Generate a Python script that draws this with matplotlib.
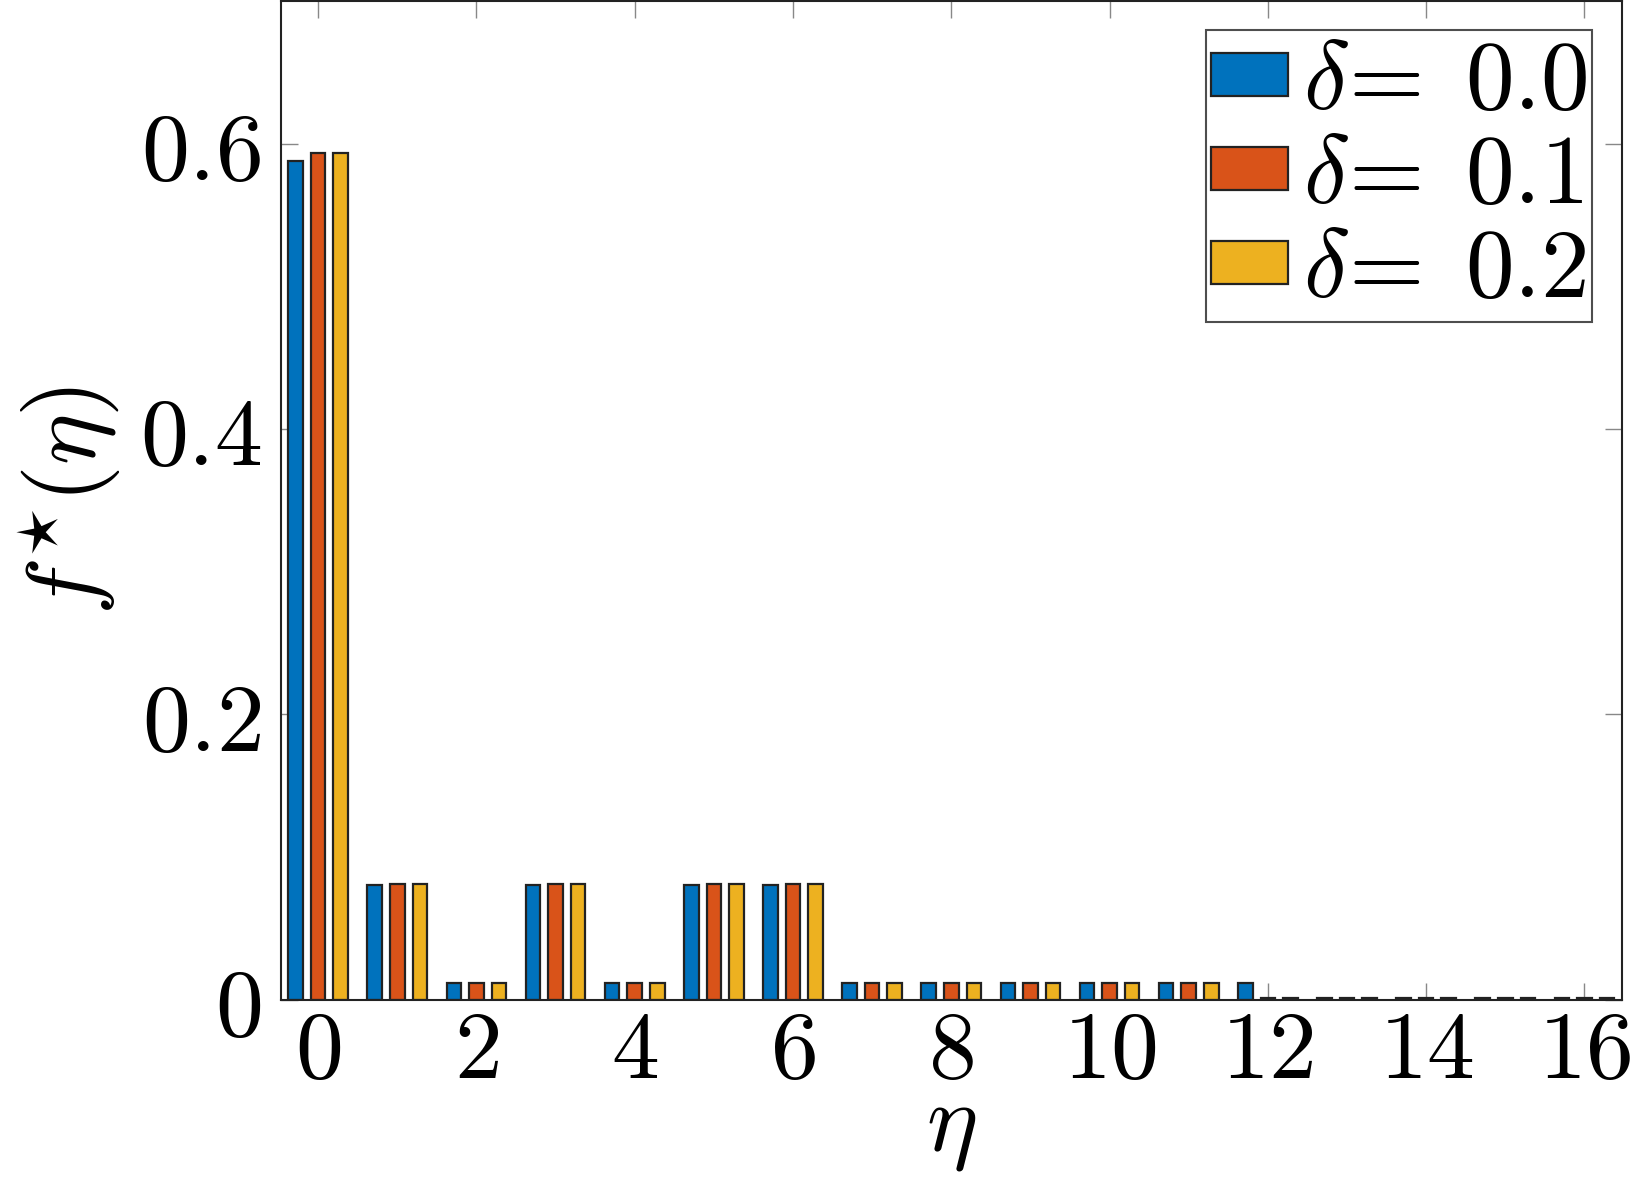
import numpy as np
import matplotlib
matplotlib.use("Agg")
import matplotlib.pyplot as plt

plt.rcParams['mathtext.fontset'] = 'cm'
plt.rcParams['font.family'] = ['DejaVu Serif']

# data
eta = np.arange(17)
f_d00 = [0.588, 0.0805, 0.0117, 0.0805, 0.0117, 0.0805, 0.0805, 0.0117, 0.0117,
         0.0117, 0.0117, 0.0117, 0.0117, 0.0015, 0.0015, 0.0015, 0.0015]
f_d01 = [0.5935, 0.0812, 0.0117, 0.0812, 0.0117, 0.0812, 0.0812, 0.0117, 0.0117,
         0.0117, 0.0117, 0.0117, 0.0015, 0.0015, 0.0015, 0.0015, 0.0015]
f_d02 = [0.5935, 0.0812, 0.0117, 0.0812, 0.0117, 0.0812, 0.0812, 0.0117, 0.0117,
         0.0117, 0.0117, 0.0117, 0.0015, 0.0015, 0.0015, 0.0015, 0.0015]
labels = [r'$\delta\!{=}\;0.0$', r'$\delta\!{=}\;0.1$', r'$\delta\!{=}\;0.2$']
colors = ['#0072BD', '#D95319', '#EDB120']

xticks = [0, 2, 4, 6, 8, 10, 12, 14, 16]
yticks = [0, 0.2, 0.4, 0.6]
ytick_labels = [r'$0$', r'$0.2$', r'$0.4$', r'$0.6$']

fig = plt.figure(figsize=(16.43, 11.86), dpi=100)
ax = fig.add_axes([0.171, 0.157, 0.816, 0.842])

w = 0.185
off = 0.285
for i, (vals, lab, c) in enumerate(zip([f_d00, f_d01, f_d02], labels, colors)):
    ax.bar(eta + (i - 1) * off, vals, width=w, color=c, edgecolor='#222222',
           linewidth=1.6, label=lab, zorder=2)

ax.set_xlim(-0.47, 16.47)
ax.set_ylim(0, 0.7)
ax.set_xticks(xticks)
ax.set_xticklabels([r'$%d$' % t for t in xticks])
ax.set_yticks(yticks)
ax.set_yticklabels(ytick_labels)
ax.tick_params(axis='both', direction='in', top=True, right=True, length=12,
               width=1, color='#888888', labelsize=69)
ax.tick_params(axis='x', pad=4)
ax.tick_params(axis='y', pad=14)
for s in ax.spines.values():
    s.set_linewidth(1.5)
    s.set_color('#222222')

ax.set_xlabel(r'$\eta$', fontsize=70, labelpad=-14)
ax.set_ylabel(r'$f^{\star}(\eta)$', fontsize=70, labelpad=12)

leg = ax.legend(loc='upper right', fontsize=70, frameon=True, fancybox=False,
                edgecolor='#222222', handlelength=0.8, handleheight=0.3,
                handletextpad=0.15, borderpad=0.05, labelspacing=0.0,
                borderaxespad=0.3)
leg.get_frame().set_linewidth(1.5)

fig.savefig('out.png', dpi=100, facecolor='white')
